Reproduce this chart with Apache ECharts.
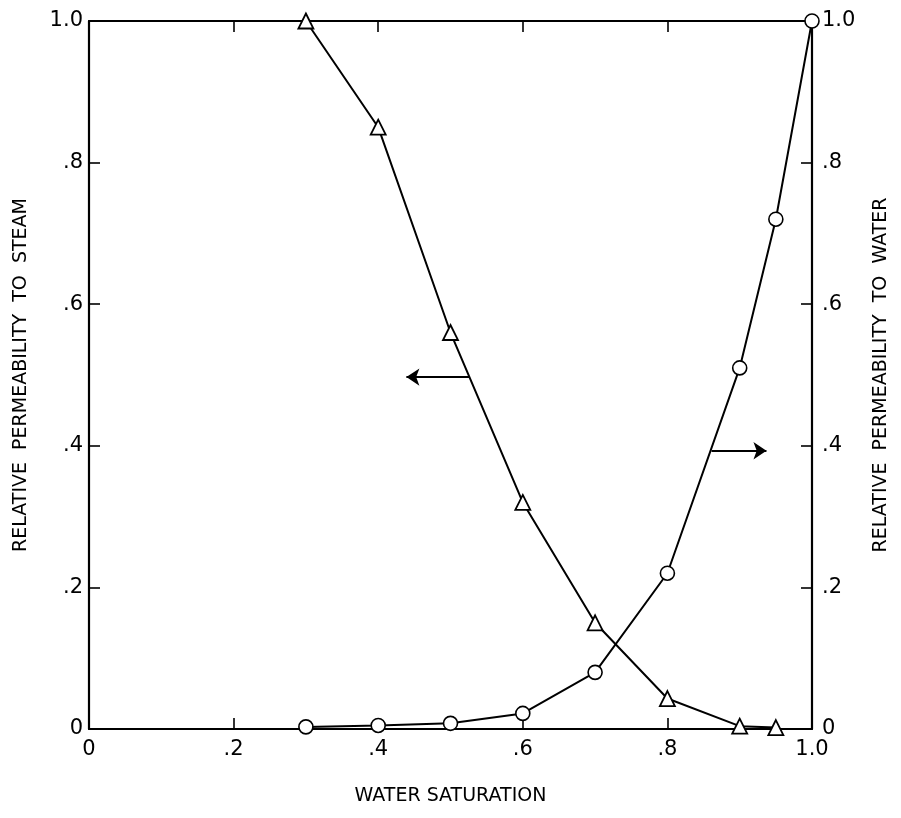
<!DOCTYPE html>
<html><head><meta charset="utf-8">
<script src="https://cdn.jsdelivr.net/npm/echarts@6/dist/echarts.min.js"></script>
<style>html,body{margin:0;padding:0;background:#fff}#c{width:901px;height:818px}</style>
</head><body><div id="c"></div>
<script>
const saturation = [0.3, 0.4, 0.5, 0.6, 0.7, 0.8, 0.9, 0.95];
const steamPerm = [1.0, 0.85, 0.56, 0.32, 0.15, 0.043, 0.004, 0.002];
const waterSat = [0.3, 0.4, 0.5, 0.6, 0.7, 0.8, 0.9, 0.95, 1.0];
const waterPerm = [0.003, 0.005, 0.008, 0.022, 0.08, 0.22, 0.51, 0.72, 1.0];
const tickLabels = ['0', '.2', '.4', '.6', '.8', '1.0'];
const steamArrow = [[0.526, 0.497], [0.439, 0.497]];
const waterArrow = [[0.861, 0.393], [0.937, 0.393]];

function fmt(v){ const i = Math.round(v*5); return tickLabels[i] || ''; }
const font = 'DejaVu Sans';
const axisLine = {onZero:false, lineStyle:{color:'#000', width:2.2}};
const tick = {show:true, inside:true, length:11, lineStyle:{color:'#000', width:1.6}};
const chart = echarts.init(document.getElementById('c'));
chart.setOption({
  animation:false,
  backgroundColor:'#fff',
  grid:{left:89, right:89, top:21, bottom:89},
  xAxis:[{
    type:'value', min:0, max:1, interval:0.2, position:'bottom',
    axisLine:axisLine, axisTick:tick, splitLine:{show:false},
    axisLabel:{formatter:fmt, color:'#000', fontSize:21, fontFamily:font, margin:10},
    name:'WATER SATURATION', nameLocation:'middle', nameGap:58,
    nameTextStyle:{color:'#000', fontSize:19, fontFamily:font}
  },{
    type:'value', min:0, max:1, interval:0.2, position:'top',
    axisLine:axisLine, axisTick:tick, splitLine:{show:false}, axisLabel:{show:false}
  }],
  yAxis:[{
    type:'value', min:0, max:1, interval:0.2, position:'left',
    axisLine:Object.assign({show:true}, axisLine), axisTick:tick, splitLine:{show:false},
    axisLabel:{formatter:fmt, color:'#000', fontSize:21, fontFamily:font, margin:6},
    name:'RELATIVE  PERMEABILITY  TO  STEAM', nameLocation:'middle', nameGap:58, nameRotate:90,
    nameTextStyle:{color:'#000', fontSize:19, fontFamily:font}
  },{
    type:'value', min:0, max:1, interval:0.2, position:'right',
    axisLine:Object.assign({show:true}, axisLine), axisTick:tick, splitLine:{show:false},
    axisLabel:{formatter:fmt, color:'#000', fontSize:21, fontFamily:font, margin:10},
    name:'RELATIVE  PERMEABILITY  TO  WATER', nameLocation:'middle', nameGap:60, nameRotate:90,
    nameTextStyle:{color:'#000', fontSize:19, fontFamily:font}
  }],
  series:[{
    type:'line', xAxisIndex:0, yAxisIndex:0,
    data:saturation.map((x,i)=>[x, steamPerm[i]]),
    symbol:'triangle', symbolSize:15, showAllSymbol:true,
    lineStyle:{color:'#000', width:2},
    itemStyle:{color:'#fff', borderColor:'#000', borderWidth:1.8}, z:3
  },{
    type:'line', xAxisIndex:0, yAxisIndex:1,
    data:waterSat.map((x,i)=>[x, waterPerm[i]]),
    symbol:'circle', symbolSize:14, showAllSymbol:true,
    lineStyle:{color:'#000', width:2},
    itemStyle:{color:'#fff', borderColor:'#000', borderWidth:1.6}, z:3
  },{
    type:'lines', coordinateSystem:'cartesian2d', xAxisIndex:0, yAxisIndex:0,
    symbol:['none','arrow'], symbolSize:13,
    lineStyle:{color:'#000', width:2.2, opacity:1},
    data:[{coords:steamArrow},{coords:waterArrow}], z:4
  }]
});
</script></body></html>
